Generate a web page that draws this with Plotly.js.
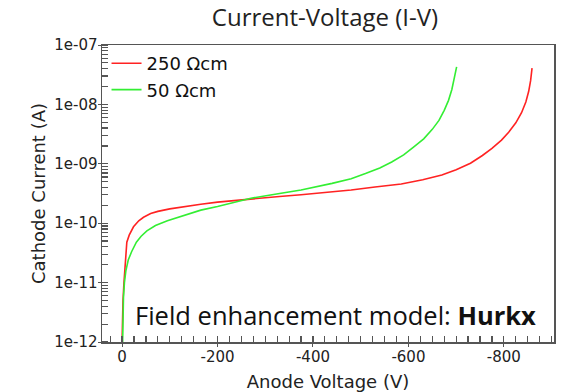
<!DOCTYPE html>
<html>
<head>
<meta charset="utf-8">
<script src="https://cdn.plot.ly/plotly-3.0.1.min.js"></script>
<style>
  html, body { margin: 0; padding: 0; background: #fff; }
  #chart { width: 562px; height: 392px; }
</style>
</head>
<body>
<div id="chart"></div>
<script>
// Anode voltage (V) and cathode current (A) for the 250 Ωcm substrate
const voltage250 = [-0.3, -1, -2, -4, -7, -10, -15, -24, -35, -45, -60, -75, -100, -130, -165, -200,
  -270, -330, -375, -430, -480, -530, -585, -630, -670, -700, -730, -755, -775, -795, -810, -825,
  -837, -846, -852, -856, -859];
const current250 = [1.26e-12, 2.51e-12, 5.0e-12, 1.0e-11, 2.51e-11, 4.8e-11, 6.3e-11, 8.7e-11, 1.10e-10,
  1.26e-10, 1.45e-10, 1.58e-10, 1.74e-10, 1.91e-10, 2.09e-10, 2.26e-10, 2.57e-10, 2.82e-10, 3.02e-10,
  3.31e-10, 3.63e-10, 4.07e-10, 4.57e-10, 5.37e-10, 6.46e-10, 7.94e-10, 1.02e-9, 1.38e-9, 1.82e-9,
  2.51e-9, 3.39e-9, 4.90e-9, 7.24e-9, 1.10e-8, 1.66e-8, 2.51e-8, 4.07e-8];

// Anode voltage (V) and cathode current (A) for the 50 Ωcm substrate
const voltage50 = [-1.2, -2, -3, -5, -8, -13, -20, -30, -40, -52, -70, -95, -130, -165, -200, -270,
  -330, -375, -440, -480, -510, -540, -565, -590, -612, -632, -650, -664, -675, -684, -691, -696,
  -699, -701];
const current50 = [1.0e-12, 3.16e-12, 5.62e-12, 1.0e-11, 1.58e-11, 2.4e-11, 3.31e-11, 4.8e-11, 6.03e-11,
  7.41e-11, 9.12e-11, 1.10e-10, 1.35e-10, 1.66e-10, 1.91e-10, 2.63e-10, 3.16e-10, 3.63e-10, 4.68e-10,
  5.62e-10, 6.84e-10, 8.51e-10, 1.07e-9, 1.41e-9, 1.95e-9, 2.63e-9, 3.80e-9, 5.37e-9, 7.94e-9,
  1.17e-8, 1.78e-8, 2.63e-8, 3.55e-8, 4.27e-8];

const seriesNames = ['250 Ωcm', '50 Ωcm'];

// tick labels written with a plain hyphen and two-digit exponents
const xTickLabels = ['0', '-200', '-400', '-600', '-800'];
const yTickLabels = ['1e-12', '1e-11', '1e-10', '1e-09', '1e-08', '1e-07'];

const MINUS = '\u2212';
const xAlias = {};
xTickLabels.forEach(t => { xAlias[t.replace('-', MINUS)] = t; });
const yAlias = {};
yTickLabels.forEach(t => {
  const exp = parseInt(t.slice(2), 10);
  const plain = '1e' + exp;
  yAlias[plain] = t;
  yAlias[plain.replace('-', MINUS)] = t;
});

const plotFont = 'DejaVu Sans, sans-serif';
const noteFont = 'Open Sans, Noto Sans, sans-serif';

const traces = [
  { x: voltage250, y: current250, name: seriesNames[0], mode: 'lines',
    line: { color: '#ff2222', width: 1.6 } },
  { x: voltage50, y: current50, name: seriesNames[1], mode: 'lines',
    line: { color: '#33ee33', width: 1.6 } }
];

const axisCommon = {
  showline: true, mirror: true, linecolor: '#555', linewidth: 1.5,
  showgrid: false, zeroline: false,
  ticks: 'outside', ticklen: 3, tickcolor: '#555', ticklabelstandoff: -3,
  tickfont: { family: plotFont, size: 15, color: '#222' }
};

const layout = {
  width: 562, height: 392,
  margin: { l: 102, r: 8, t: 45, b: 50 },
  paper_bgcolor: '#fff', plot_bgcolor: '#fff',
  showlegend: true,
  title: { text: 'Current-Voltage (I-V)', x: 325 / 562, xanchor: 'center', y: 1 - 18 / 392, yanchor: 'middle',
    font: { family: noteFont, size: 24, color: '#222' } },
  xaxis: Object.assign({}, axisCommon, {
    range: [42, -905],
    tickmode: 'linear', tick0: 0, dtick: 200, labelalias: xAlias,
    minor: { ticks: 'inside', dtick: 25, ticklen: 6, tickcolor: '#555', tickwidth: 1.2 },
    title: { text: 'Anode Voltage (V)', standoff: 12, font: { family: plotFont, size: 18, color: '#222' } }
  }),
  yaxis: Object.assign({}, axisCommon, {
    type: 'log', range: [-12, -7],
    tickmode: 'linear', tick0: 0, dtick: 1, exponentformat: 'e', showexponent: 'all', labelalias: yAlias,
    minor: { ticks: 'inside', dtick: 'D1', ticklen: 6, tickcolor: '#555', tickwidth: 1.2 },
    title: { text: 'Cathode Current (A)', standoff: 4, font: { family: plotFont, size: 18, color: '#222' } }
  }),
  legend: { x: 0.01, y: 1.0, xanchor: 'left', yanchor: 'top', bgcolor: 'rgba(0,0,0,0)',
    font: { family: plotFont, size: 18, color: '#111' }, tracegroupgap: 0 },
  annotations: [{
    xref: 'paper', yref: 'paper', x: 0.965, y: 0.09, xanchor: 'right', yanchor: 'middle',
    showarrow: false, text: 'Field enhancement model: <b>Hurkx</b>',
    font: { family: noteFont, size: 25.5, color: '#111' }
  }]
};

Plotly.newPlot('chart', traces, layout, { staticPlot: true, displayModeBar: false });
</script>
</body>
</html>
